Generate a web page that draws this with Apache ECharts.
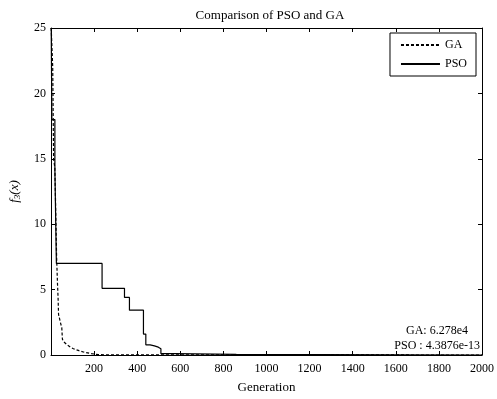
<!DOCTYPE html>
<html>
<head>
<meta charset="utf-8">
<script src="https://cdn.jsdelivr.net/npm/echarts@6/dist/echarts.min.js"></script>
<style>
html,body{margin:0;padding:0;background:#fff;}
#c{width:497px;height:399px;}
</style>
</head>
<body>
<div id="c"></div>
<script>
// Data
var gaGen  = [1, 8, 12, 18, 22, 26, 30, 33, 35, 45, 50, 53, 60, 73, 90, 104, 130, 150, 188, 220, 260, 2000];
var gaVal  = [25, 22, 15, 14.3, 11, 7.5, 5.5, 4.3, 3.1, 2.4, 2.1, 1.2, 1.0, 0.8, 0.6, 0.48, 0.33, 0.23, 0.1, 0.03, 0.01, 0.0];
var psoGen = [1, 4, 18, 25, 237, 341, 364, 429, 440, 460, 480, 498, 510, 576, 860, 2000];
var psoVal = [25, 18, 14.2, 7.0, 5.1, 4.4, 3.43, 1.6, 0.78, 0.7, 0.6, 0.48, 0.1, 0.05, 0.0, 0.0];
var xTicks = [200, 400, 600, 800, 1000, 1200, 1400, 1600, 1800, 2000];
var yTicks = [0, 5, 10, 15, 20, 25];
var titleText = 'Comparison of PSO and GA';
var xName = 'Generation';
var noteLines = ['GA: 6.278e4', 'PSO : 4.3876e-13'];

function pairs(xs, ys){ return xs.map(function(x,i){ return [x, ys[i]]; }); }

var FONT = 'Liberation Serif';
var chart = echarts.init(document.getElementById('c'), null, {renderer:'canvas'});
function axisCommon(){
  return {
    type:'value',
    axisLine:{show:true, onZero:false, lineStyle:{color:'#000', width:1}},
    axisTick:{show:true, inside:true, length:4, lineStyle:{color:'#000'}},
    splitLine:{show:false}
  };
}
chart.setOption({
  animation:false,
  backgroundColor:'#fff',
  title:{text:titleText, left:265, textAlign:'center', top:4,
    textStyle:{fontFamily:FONT, fontSize:13, fontWeight:'normal', color:'#000'}},
  grid:{left:47, right:14, top:28, bottom:41, containLabel:false},
  legend:{
    right:21, top:33, orient:'vertical', itemGap:7,
    padding:[6,9,6,10],
    borderColor:'#000', borderWidth:1,
    itemWidth:39, itemHeight:10,
    itemStyle:{opacity:0},
    textStyle:{fontFamily:FONT, fontSize:12, color:'#000'},
    data:['GA','PSO']
  },
  xAxis:[
    Object.assign(axisCommon(), {
      position:'bottom', min:0, max:2000, interval:200,
      name:xName, nameLocation:'middle', nameGap:26,
      nameTextStyle:{fontFamily:FONT, fontSize:13, color:'#000'},
      axisLabel:{fontFamily:FONT, fontSize:12, color:'#000', margin:8,
        formatter:function(v){ return xTicks.indexOf(v) >= 0 ? String(v) : ''; }}
    }),
    Object.assign(axisCommon(), {
      position:'top', min:0, max:2000, interval:200, axisLabel:{show:false}
    })
  ],
  yAxis:[
    Object.assign(axisCommon(), {
      position:'left', min:0, max:25, interval:5,
      name:'{i|f}{s|3}{n|(x)}', nameLocation:'middle', nameGap:29, nameRotate:90,
      nameTextStyle:{fontFamily:FONT, fontSize:13, color:'#000',
        rich:{
          i:{fontFamily:FONT, fontSize:13, fontStyle:'italic', color:'#000'},
          s:{fontFamily:FONT, fontSize:9, fontStyle:'italic', color:'#000', verticalAlign:'bottom', padding:[6,0,0,0]},
          n:{fontFamily:FONT, fontSize:13, fontStyle:'italic', color:'#000'}
        }},
      axisLabel:{fontFamily:FONT, fontSize:12, color:'#000', margin:5,
        formatter:function(v){ return yTicks.indexOf(v) >= 0 ? String(v) : ''; }}
    }),
    Object.assign(axisCommon(), {
      position:'right', min:0, max:25, interval:5, axisLabel:{show:false}
    })
  ],
  series:[
    {name:'GA', type:'line', xAxisIndex:0, yAxisIndex:0, showSymbol:false, symbol:'none',
     data:pairs(gaGen, gaVal), clip:true,
     lineStyle:{color:'#000', width:1.2, type:[3,2]}, itemStyle:{color:'#000'}},
    {name:'PSO', type:'line', xAxisIndex:0, yAxisIndex:0, showSymbol:false, symbol:'none',
     step:'end', data:pairs(psoGen, psoVal), clip:true,
     lineStyle:{color:'#000', width:1.2, type:'solid'}, itemStyle:{color:'#000'}}
  ],
  graphic:[
    {type:'text', right:29, top:325, style:{text:noteLines[0], font:'12px "Liberation Serif"', fill:'#000'}},
    {type:'text', right:17, top:340, style:{text:noteLines[1], font:'12px "Liberation Serif"', fill:'#000'}}
  ]
});
</script>
</body>
</html>
